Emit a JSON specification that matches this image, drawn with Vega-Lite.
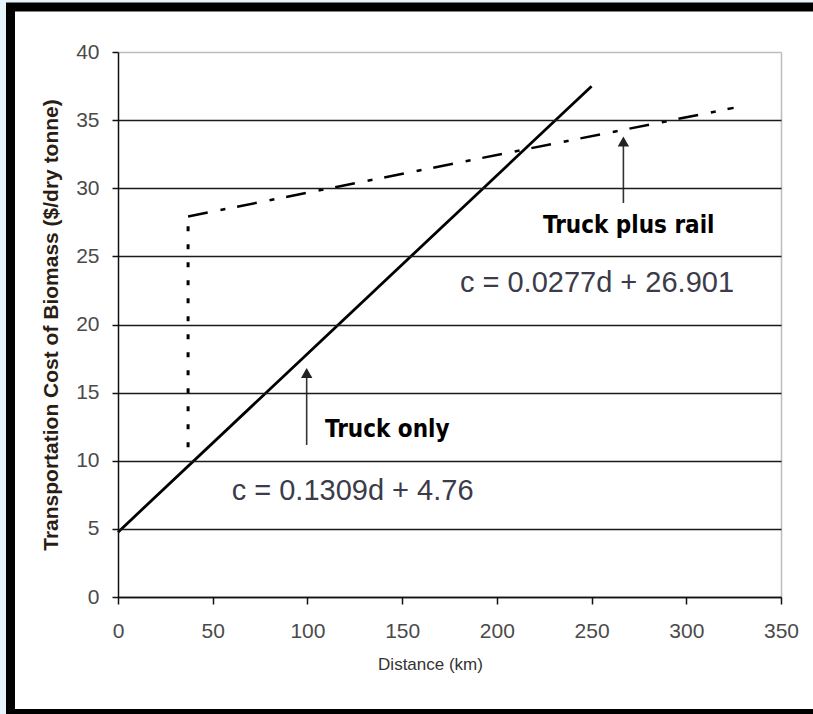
{
  "$schema": "https://vega.github.io/schema/vega-lite/v6.json",
  "width": 663,
  "height": 545,
  "autosize": "none",
  "padding": {"left": 118, "top": 52, "right": 32, "bottom": 117},
  "background": "#e8f4fc",
  "config": {
    "view": {"stroke": null},
    "font": "Liberation Sans"
  },
  "datasets": {
    "frame": [{"x1": -56.75, "x2": 372, "y1": 43.3, "y2": -8.55}],
    "lines": [
      {"series": "Truck only", "d": 0, "c": 4.76},
      {"series": "Truck only", "d": 250, "c": 37.485},
      {"series": "Rail connector", "d": 37, "c": 11},
      {"series": "Rail connector", "d": 37, "c": 27.93},
      {"series": "Truck plus rail", "d": 37, "c": 27.93},
      {"series": "Truck plus rail", "d": 325, "c": 35.9}
    ],
    "arrows": [
      {"label": "Truck only", "d": 99.6, "c0": 11.16, "c1": 16.44},
      {"label": "Truck plus rail", "d": 266.8, "c0": 28.92, "c1": 33.43}
    ],
    "labels": [
      {"text": "Truck plus rail", "d": 224.4, "c": 26.69},
      {"text": "Truck only", "d": 109.3, "c": 11.77}
    ],
    "equations": [
      {"text": "c = 0.0277d + 26.901", "d": 180.5, "c": 22.41},
      {"text": "c = 0.1309d + 4.76", "d": 60.0, "c": 7.12}
    ]
  },
  "encoding": {
    "x": {
      "type": "quantitative",
      "scale": {"domain": [0, 350], "nice": false, "zero": false},
      "axis": {
        "title": "Distance (km)",
        "values": [0, 50, 100, 150, 200, 250, 300, 350],
        "zindex": 1,
        "grid": true,
        "gridColor": {"condition": {"test": "datum.value == 350", "value": "#bdbdbd"}, "value": null},
        "gridWidth": 1.5,
        "domainColor": "#111",
        "domainWidth": 1.5,
        "tickColor": "#111",
        "tickWidth": 1.5,
        "tickSize": 7,
        "labelFont": "Liberation Sans",
        "labelFontSize": 21,
        "labelColor": "#4a4a4a",
        "labelPadding": 16,
        "labelFlush": false,
        "titleFont": "Liberation Sans",
        "titleFontSize": 17,
        "titleFontWeight": "normal",
        "titleColor": "#333",
        "titlePadding": 15,
        "titleX": 312
      }
    },
    "y": {
      "type": "quantitative",
      "scale": {"domain": [0, 40], "nice": false, "zero": false},
      "axis": {
        "title": "Transportation Cost of Biomass ($/dry tonne)",
        "values": [0, 5, 10, 15, 20, 25, 30, 35, 40],
        "zindex": 1,
        "grid": true,
        "gridColor": {"condition": {"test": "datum.value == 40", "value": "#bdbdbd"}, "value": "#1a1a1a"},
        "gridWidth": 1.4,
        "domainColor": "#111",
        "domainWidth": 1.5,
        "tickColor": "#111",
        "tickWidth": 1.5,
        "tickSize": 6,
        "labelFont": "Liberation Sans",
        "labelFontSize": 21,
        "labelColor": "#4a4a4a",
        "labelPadding": 13,
        "labelFlush": false,
        "titleFont": "Liberation Sans",
        "titleFontSize": 21,
        "titleFontWeight": "bold",
        "titleColor": "#2b1d12",
        "titlePadding": 14
      }
    }
  },
  "layer": [
    {
      "data": {"name": "frame"},
      "mark": {"type": "rect", "fill": "white", "stroke": "black", "strokeWidth": 9, "clip": false},
      "encoding": {
        "x": {"field": "x1", "type": "quantitative"},
        "x2": {"field": "x2"},
        "y": {"field": "y1", "type": "quantitative"},
        "y2": {"field": "y2"}
      }
    },
    {
      "data": {"name": "lines"},
      "transform": [{"filter": "datum.series == 'Truck only'"}],
      "mark": {"type": "line", "color": "black", "strokeWidth": 2.8},
      "encoding": {
        "x": {"field": "d", "type": "quantitative"},
        "y": {"field": "c", "type": "quantitative"}
      }
    },
    {
      "data": {"name": "lines"},
      "transform": [{"filter": "datum.series == 'Rail connector'"}],
      "mark": {"type": "line", "color": "black", "strokeWidth": 3, "strokeDash": [5, 13]},
      "encoding": {
        "x": {"field": "d", "type": "quantitative"},
        "y": {"field": "c", "type": "quantitative"}
      }
    },
    {
      "data": {"name": "lines"},
      "transform": [{"filter": "datum.series == 'Truck plus rail'"}],
      "mark": {"type": "line", "color": "black", "strokeWidth": 2.5, "strokeDash": [20, 13, 5, 12]},
      "encoding": {
        "x": {"field": "d", "type": "quantitative"},
        "y": {"field": "c", "type": "quantitative"}
      }
    },
    {
      "data": {"name": "arrows"},
      "mark": {"type": "rule", "color": "#333", "strokeWidth": 1.6},
      "encoding": {
        "x": {"field": "d", "type": "quantitative"},
        "y": {"field": "c0", "type": "quantitative"},
        "y2": {"field": "c1"}
      }
    },
    {
      "data": {"name": "arrows"},
      "mark": {"type": "point", "shape": "triangle-up", "filled": true, "color": "#222", "size": 130, "opacity": 1},
      "encoding": {
        "x": {"field": "d", "type": "quantitative"},
        "y": {"field": "c1", "type": "quantitative"}
      }
    },
    {
      "data": {"name": "labels"},
      "mark": {"type": "text", "align": "left", "baseline": "alphabetic", "font": "DejaVu Sans Condensed, Liberation Sans", "fontWeight": "bold", "fontSize": 24, "color": "black"},
      "encoding": {
        "x": {"field": "d", "type": "quantitative"},
        "y": {"field": "c", "type": "quantitative"},
        "text": {"field": "text"}
      }
    },
    {
      "data": {"name": "equations"},
      "mark": {"type": "text", "align": "left", "baseline": "alphabetic", "font": "Liberation Sans", "fontSize": 29, "color": "#3b3b4a"},
      "encoding": {
        "x": {"field": "d", "type": "quantitative"},
        "y": {"field": "c", "type": "quantitative"},
        "text": {"field": "text"}
      }
    }
  ]
}
